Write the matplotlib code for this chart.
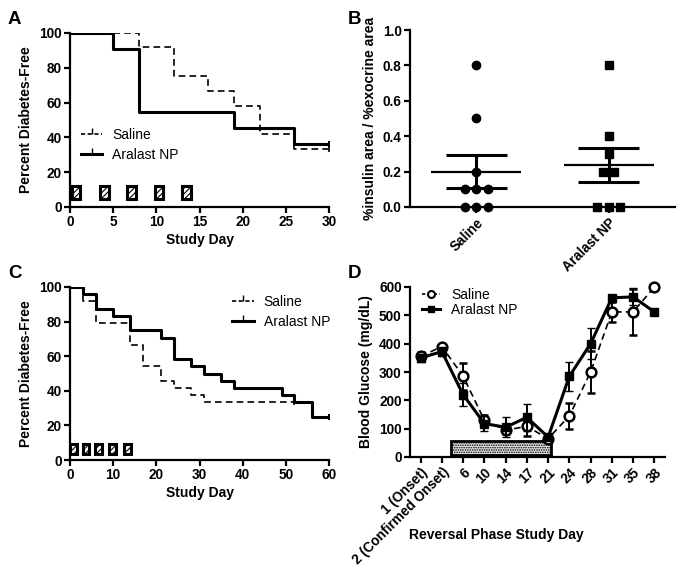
import numpy as np
import matplotlib
matplotlib.use('Agg')
import matplotlib.pyplot as plt
from matplotlib.patches import Rectangle

plt.rcParams['font.family'] = ['Liberation Sans', 'DejaVu Sans']
plt.rcParams['font.size'] = 9.5
plt.rcParams['hatch.linewidth'] = 0.8

# panel A - survival, 30 days
a_sal_days = [0, 8, 12, 16, 19, 22, 26, 30]
a_sal_pct = [100, 91.7, 75, 66.7, 58.3, 41.7, 33.3, 33.3]
a_ara_days = [0, 5, 8, 19, 26, 30]
a_ara_pct = [100, 90.9, 54.5, 45.5, 36.4, 36.4]
a_dose_days = [0.7, 4.0, 7.1, 10.3, 13.5]

# panel B - insulin / exocrine area
b_groups = ['Saline', 'Aralast NP']
b_saline = [0.8, 0.5, 0.2, 0.1, 0.1, 0.1, 0.0, 0.0, 0.0]
b_aralast = [0.8, 0.4, 0.3, 0.2, 0.2, 0.0, 0.0, 0.0]

# panel C - survival, 60 days
c_sal_days = [0, 3, 6, 14, 17, 21, 24, 28, 31, 52]
c_sal_pct = [100, 91.7, 79.2, 66.7, 54.2, 45.8, 41.7, 37.5, 33.3, 33.3]
c_ara_days = [0, 3, 6, 10, 14, 21, 24, 28, 31, 35, 38, 49, 52, 56, 60]
c_ara_pct = [100, 95.8, 87.5, 83.3, 75, 70.8, 58.3, 54.2, 50, 45.8, 41.7, 37.5, 33.3, 25, 25]
c_dose_days = [0.9, 3.7, 6.7, 9.9, 13.4]

# panel D - blood glucose
d_days = ['1 (Onset)', '2 (Confirmed Onset)', '6', '10', '14', '17', '21', '24', '28', '31', '35', '38']
d_sal = [355, 390, 285, 130, 95, 108, 65, 145, 300, 512, 512, 600]
d_sal_err = [15, 10, 48, 20, 15, 35, 8, 45, 75, 35, 80, 0]
d_ara = [350, 372, 220, 118, 105, 140, 70, 285, 400, 562, 565, 512]
d_ara_err = [15, 15, 40, 25, 35, 48, 5, 52, 55, 10, 30, 0]

W, H = 683, 569
fig = plt.figure(figsize=(W / 100, H / 100), dpi=100)


def px_axes(l, t, r, b):
    return fig.add_axes([l / W, 1 - b / H, (r - l) / W, (b - t) / H])


def style(ax):
    for s in ['top', 'right']:
        ax.spines[s].set_visible(False)
    for s in ['left', 'bottom']:
        ax.spines[s].set_linewidth(1.6)
    ax.tick_params(direction='out', length=4, width=1.6, labelsize=9.8, pad=2)
    for lab in ax.get_xticklabels() + ax.get_yticklabels():
        lab.set_fontweight('bold')


def survival(ax, d1, p1, d2, p2, doses, box_w, box_y, box_h):
    ax.step(d1, p1, where='post', color='black', lw=1.2, ls=(0, (4, 2.5)), label='Saline')
    ax.step(d2, p2, where='post', color='black', lw=2.2, label='Aralast NP')
    ax.plot(d1[-1], p1[-1], marker='|', color='black', ms=5, mew=1.2)
    ax.plot(d2[-1], p2[-1], marker='|', color='black', ms=5, mew=1.5)
    for d in doses:
        ax.add_patch(Rectangle((d - box_w / 2, box_y), box_w, box_h, facecolor='white',
                               edgecolor='black', lw=2.2, hatch='//////', zorder=3))
    ax.set_ylim(0, 100)
    ax.set_yticks([0, 20, 40, 60, 80, 100])
    ax.set_ylabel('Percent Diabetes-Free', fontweight='bold', fontsize=10)
    ax.set_xlabel('Study Day', fontweight='bold', fontsize=10, labelpad=3)


# A
axA = px_axes(70, 33, 329, 207)
survival(axA, a_sal_days, a_sal_pct, a_ara_days, a_ara_pct, a_dose_days, 1.0, 4.5, 7.5)
axA.set_xlim(0, 30)
axA.set_xticks([0, 5, 10, 15, 20, 25, 30])
h = [plt.Line2D([], [], color='black', lw=1.2, ls=(0, (2.5, 1.5)), marker=2, ms=4),
     plt.Line2D([], [], color='black', lw=2.2, marker=2, ms=4)]
axA.legend(h, ['Saline', 'Aralast NP'], loc='center left', bbox_to_anchor=(0.015, 0.355),
           frameon=False, handlelength=1.55, borderpad=0, fontsize=10, labelspacing=0.45, handletextpad=0.7)
style(axA)

# B
axB = px_axes(410, 30, 675, 207)
for i, (vals, mk) in enumerate([(b_saline, 'o'), (b_aralast, 's')]):
    vals = np.array(vals)
    xs = np.full(len(vals), float(i))
    for v in np.unique(vals):
        idx = np.where(vals == v)[0]
        n = len(idx)
        xs[idx] = i + (np.arange(n) - (n - 1) / 2) * 0.085
    axB.plot(xs, vals, mk, color='black', ms=6, ls='none', clip_on=False, zorder=3)
    m = vals.mean()
    sem = vals.std(ddof=1) / np.sqrt(len(vals))
    axB.hlines(m, i - 0.34, i + 0.34, color='black', lw=1.6)
    axB.hlines([m - sem, m + sem], i - 0.23, i + 0.23, color='black', lw=2.2)
    axB.vlines(i, m - sem, m + sem, color='black', lw=2.2)
axB.set_xlim(-0.5, 1.5)
axB.set_ylim(0, 1.0)
axB.set_yticks(np.arange(0, 1.01, 0.2))
axB.set_yticklabels(['%.1f' % v for v in np.arange(0, 1.01, 0.2)])
axB.set_xticks([0, 1])
axB.set_xticklabels(b_groups, rotation=45, ha='right', rotation_mode='anchor')
axB.tick_params(axis='x', length=0, pad=6)
axB.set_ylabel('%insulin area / %exocrine area', fontweight='bold', fontsize=10)
style(axB)

# C
axC = px_axes(70, 287, 329, 460)
survival(axC, c_sal_days, c_sal_pct, c_ara_days, c_ara_pct, c_dose_days, 1.6, 3.5, 5.7)
axC.set_xlim(0, 60)
axC.set_xticks([0, 10, 20, 30, 40, 50, 60])
axC.legend(h, ['Saline', 'Aralast NP'], loc='center left', bbox_to_anchor=(0.6, 0.855),
           frameon=False, handlelength=1.55, borderpad=0, fontsize=10, labelspacing=0.45, handletextpad=0.7)
style(axC)

# D
axD = px_axes(410, 287, 665, 457)
x = np.arange(len(d_days))
axD.add_patch(Rectangle((1.45, 8), 4.7, 47, facecolor='#e6e6e6', edgecolor='black',
                        lw=2, hatch='.......', zorder=1))
axD.errorbar(x, d_sal, yerr=d_sal_err, color='black', lw=1.2, ls=(0, (4, 2.5)), marker='o',
             mfc='white', mec='black', mew=1.8, ms=7, capsize=3, elinewidth=1.4,
             label='Saline', zorder=3, clip_on=False)
axD.errorbar(x, d_ara, yerr=d_ara_err, color='black', lw=2.2, marker='s', ms=6,
             capsize=3, elinewidth=1.4, label='Aralast NP', zorder=4, clip_on=False)
axD.set_xlim(-0.5, 11.5)
axD.set_ylim(0, 600)
axD.set_yticks(range(0, 601, 100))
axD.set_xticks(x)
axD.set_xticklabels(d_days, rotation=45, ha='right', rotation_mode='anchor')
axD.set_ylabel('Blood Glucose (mg/dL)', fontweight='bold', fontsize=10)
axD.set_xlabel('Reversal Phase Study Day', fontweight='bold', fontsize=10)
axD.xaxis.set_label_coords(0.34, -0.42)
hD = [plt.Line2D([], [], color='black', lw=1.2, ls=(0, (2, 1.5)), marker='o', mfc='white', mew=1.5, ms=5),
      plt.Line2D([], [], color='black', lw=2.2, marker='s', ms=5)]
axD.legend(hD, ['Saline', 'Aralast NP'], loc='center left', bbox_to_anchor=(0.02, 0.91),
           frameon=False, handlelength=1.3, borderpad=0, fontsize=10, labelspacing=0.1, handletextpad=0.8)
style(axD)

# panel letters
for txt, (px, py) in zip('ABCD', [(8, 20), (348, 20), (8, 273), (348, 273)]):
    fig.text(px / W, 1 - py / H, txt, fontsize=13.5, fontweight='bold', va='center', ha='left')

fig.savefig('out.png', dpi=100)
